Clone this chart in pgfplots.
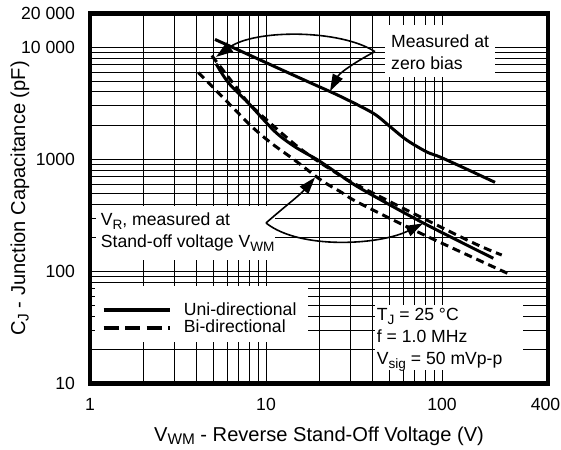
\documentclass[border=0pt]{standalone}
\usepackage{fontspec}
\setmainfont{Liberation Sans}
\usepackage{pgfplots}
\pgfplotsset{compat=1.18}
\usetikzlibrary{arrows.meta}
\newcommand\cf{\fontsize{17.6}{22}\selectfont}
\newcommand\lf{\fontsize{20.1}{23}\selectfont}
\newcommand\sub[1]{\raisebox{-4pt}{\fontsize{13.6}{14}\selectfont #1}}
\newcommand\subl[1]{\raisebox{-3.5pt}{\fontsize{15.4}{16}\selectfont #1}}

\begin{document}
\cf
\begin{tikzpicture}
\begin{loglogaxis}[
  scale only axis, width=458pt, height=370pt,
  xmin=1, xmax=400, ymin=10, ymax=20000,
  xtick={1,10,100}, xticklabels={\mbox{1},\mbox{10},\mbox{100}},
  extra x ticks={400}, extra x tick labels={\mbox{400}},
  extra x tick style={grid=none, xticklabel style={xshift=-2.5pt}},
  ytick={10,100,1000,10000},
  yticklabels={\mbox{10},\mbox{100},\mbox{1000},\mbox{10 000}},
  extra y ticks={20000}, extra y tick labels={\mbox{20 000}},
  extra y tick style={grid=none},
  grid=both,
  major grid style={black, line width=0.8pt},
  minor grid style={black, line width=0.8pt},
  major tick length=0pt, minor tick length=0pt,
  axis line style={line width=4.2pt},
  xticklabel style={yshift=-9pt},
  yticklabel style={xshift=-9pt},
  xlabel={V\subl{WM} - Reverse Stand-Off Voltage (V)},
  ylabel={C\subl{J} - Junction Capacitance (pF)},
  xlabel style={at={(axis description cs:0.5,-0.1565)}, anchor=base, font=\lf},
  ylabel style={at={(axis description cs:-0.1419,0.5)}, anchor=base, font=\lf},
  legend cell align=left,
  legend style={at={(0.0255,0.2190)}, anchor=north west, draw=none, fill=none,
    inner sep=0pt, outer sep=0pt, row sep=2.0pt, column sep=11.7pt,
    nodes={inner sep=0pt, font=\cf}},
]
% white boxes behind the notes
\fill[white] (rel axis cs:0.6441,0.8284) rectangle (rel axis cs:0.8843,0.9689);
\fill[white] (rel axis cs:0.0131,0.3338) rectangle (rel axis cs:0.4039,0.4797);
\fill[white] (rel axis cs:0.0109,0.1122) rectangle (rel axis cs:0.4760,0.2635);
\fill[white] (rel axis cs:0.6223,0.0365) rectangle (rel axis cs:0.9450,0.2122);

\node[anchor=west, align=left, inner sep=0pt] at (rel axis cs:0.6572,0.8946) {Measured at\\zero bias};
\node[anchor=west, align=left, inner sep=0pt] at (rel axis cs:0.0234,0.4083)
  {V\sub{R}, measured at\\Stand-off voltage V\sub{WM}};
\node[anchor=west, align=left, inner sep=0pt] at (rel axis cs:0.6260,0.1176)
  {T\sub{J} = 25 °C\\f = 1.0 MHz\\V\sub{sig} = 50 mVp-p};

% callout arrows
\draw[line width=1.6pt, -{Triangle[length=17pt,width=11pt]}]
  (rel axis cs:0.6223,0.8968) .. controls (rel axis cs:0.5459,0.9578)
  and (rel axis cs:0.3603,0.9578) .. (axis cs:5.2,8200);
\draw[line width=1.6pt, -{Triangle[length=17pt,width=11pt]}]
  (rel axis cs:0.6223,0.8968) .. controls (rel axis cs:0.5939,0.8797)
  and (rel axis cs:0.5459,0.8419) .. (axis cs:23.1,4050);
\draw[line width=1.6pt, -{Triangle[length=17pt,width=11pt]}]
  (rel axis cs:0.3843,0.4338) .. controls (rel axis cs:0.4214,0.4743)
  and (rel axis cs:0.4585,0.5095) .. (axis cs:19,690);
\draw[line width=1.6pt, -{Triangle[length=17pt,width=11pt]}]
  (rel axis cs:0.3843,0.4338) .. controls (rel axis cs:0.4585,0.3608)
  and (rel axis cs:0.6332,0.3743) .. (axis cs:78,268);

% uni-directional, zero bias
\addplot[black, line width=3pt, smooth, tension=0.5,
  legend image code/.code={\draw[black, line width=4pt, solid] (0pt,0pt) -- (66.6pt,0pt);}]
coordinates {
(5.13,11740) (8.11,8470) (12.01,6390) (17.78,4835) (26.33,3658) (40.55,2584)
(50.64,1959) (63.02,1485) (81.85,1164) (97.4,1049) (144.2,792) (200,623)
};
% bi-directional, zero bias
\addplot[black, line width=3pt, dash pattern=on 8pt off 5pt, smooth, tension=0.5,
  legend image code/.code={\draw[black, line width=4pt, dash pattern=on 15pt off 6.5pt] (0pt,0pt) -- (66.6pt,0pt);}]
coordinates {
(4.92,8414) (5.62,6418) (6.82,4348) (8.30,2971) (14.0,1433) (18.19,1049)
(24.66,768) (33.45,582) (138.1,191.4) (218.4,140.1)
};
% uni-directional, at stand-off voltage
\addplot[black, line width=3pt, smooth, tension=0.5, forget plot]
coordinates {
(5.20,7123) (6.11,4826) (7.93,3183) (11.25,1765) (14.62,1292) (19.83,979)
(25.75,741) (34.98,542) (78.0,271) (195.6,130.9)
};
% bi-directional, at stand-off voltage
\addplot[black, line width=3pt, dash pattern=on 8pt off 5pt, smooth, tension=0.5, forget plot]
coordinates {
(4.125,5943) (5.13,4206) (6.11,3183) (8.30,1960) (10.78,1384) (14.62,979)
(20.73,646) (26.92,506) (33.45,411) (75.0,220) (248.9,92.4)
};
\legend{Uni-directional, Bi-directional}
\end{loglogaxis}
\pgfresetboundingbox
\path ([shift={(-90pt,-65.5pt)}]current axis.south west) rectangle ([shift={(13pt,13.5pt)}]current axis.north east);
\end{tikzpicture}
\end{document}
